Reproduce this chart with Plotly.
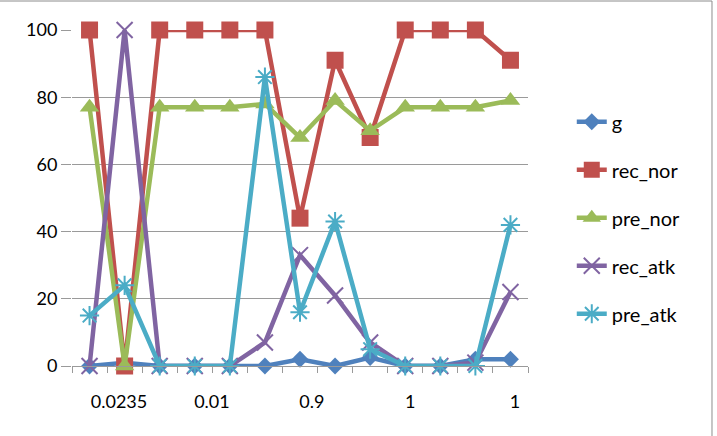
import plotly.graph_objects as go

categories = list(range(13))
tick_labels = ["0.0235", "0.01", "0.9", "1", "1"]
tick_pos = [0.84, 3.49, 6.34, 9.14, 12.13]

g = [0, 1, 0, 0, 0, 0, 2, 0, 2.5, 0, 0, 2, 2]
rec_nor = [100, 0, 100, 100, 100, 100, 44, 91, 68, 100, 100, 100, 91]
pre_nor = [77, 0, 77, 77, 77, 78, 68, 79, 70, 77, 77, 77, 79]
rec_atk = [0, 100, 0, 0, 0, 7, 33, 21, 7, 0, 0, 1, 22]
pre_atk = [15, 24, 0, 0, 0, 86, 16, 43, 5, 0, 0, 0, 42]

series = [
    ("g", g, "#4F81BD", "diamond", 13, 0),
    ("rec_nor", rec_nor, "#C0504D", "square", 17, 0),
    ("pre_nor", pre_nor, "#9BBB59", "triangle-up", 17, 0),
    ("rec_atk", rec_atk, "#8064A2", "x-thin-open", 16, 2),
    ("pre_atk", pre_atk, "#4BACC6", "asterisk-open", 16, 2),
]

fig = go.Figure()
for name, vals, col, sym, size, lw in series:
    mk = dict(symbol=sym, size=size, color=col)
    if lw:
        mk["line"] = dict(color=col, width=lw)
    fig.add_trace(go.Scatter(
        x=categories, y=vals, name=name, mode="lines+markers",
        line=dict(color=col, width=4.5), marker=mk, cliponaxis=False,
        legendgroup=name,
    ))

grid = "#9a9a9a"
fig.update_layout(
    width=717, height=436,
    margin=dict(l=72, r=189, t=30, b=70),
    paper_bgcolor="white", plot_bgcolor="white",
    font=dict(family="Lato", size=18, color="#000000"),
    showlegend=True,
    legend=dict(x=1.096, y=0.785, xanchor="left", yanchor="top",
                font=dict(size=20), tracegroupgap=19, traceorder="grouped",
                bgcolor="rgba(0,0,0,0)"),
    xaxis=dict(range=[-0.5, 12.5], tickmode="array", tickvals=tick_pos,
               ticktext=tick_labels, ticks="", showgrid=False, zeroline=False,
               showline=True, linecolor=grid, linewidth=1,
               ticklabelstandoff=19,
               minor=dict(tickmode="array", tickvals=[i - 0.5 for i in range(14)],
                          ticks="outside", ticklen=6, tickcolor=grid, showgrid=False)),
    yaxis=dict(range=[0, 100], tickvals=[0, 20, 40, 60, 80, 100],
               showgrid=True, gridcolor=grid, gridwidth=1, zeroline=False,
               showline=False, ticks="outside", ticklen=10, tickcolor=grid,
               ticklabelstandoff=0),
    shapes=[
        dict(type="line", xref="paper", yref="paper", x0=-0.2, x1=1.4035,
             y0=1.0863, y1=1.0863, line=dict(color="#8c8c8c", width=1)),
        dict(type="line", xref="paper", yref="paper", x0=1.4035, x1=1.4035,
             y0=-0.3, y1=1.0863, line=dict(color="#8c8c8c", width=1)),
    ],
)
fig.write_html("out.html")
